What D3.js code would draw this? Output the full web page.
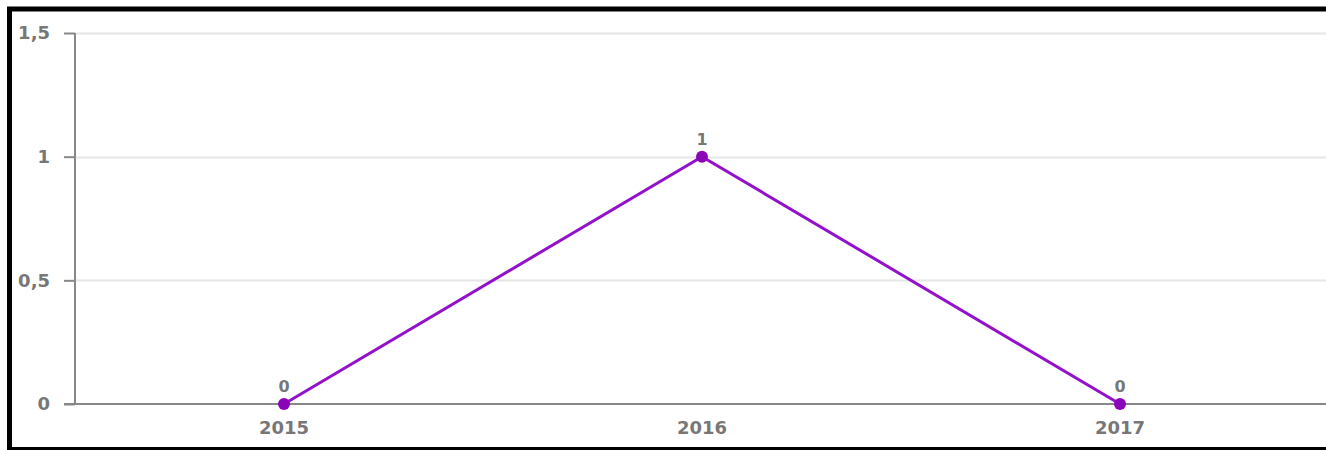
<!DOCTYPE html>
<html>
<head>
<meta charset="utf-8">
<script src="https://cdn.jsdelivr.net/npm/d3@7"></script>
<style>
  body { margin: 0; background: #fff; }
  svg { display: block; }
</style>
</head>
<body>
<script>
const years = ['2015', '2016', '2017']
const counts = [0, 1, 0]
const yTicks = [0, 0.5, 1, 1.5]

const W = 1326
const H = 450
const margin = { top: 33, left: 75, bottom: 46 }

const svg = d3.select('body').append('svg')
  .attr('width', W)
  .attr('height', H)

const xScale = d3.scaleBand()
  .domain(years)
  .range([margin.left, margin.left + 418 * years.length])

const yScale = d3.scaleLinear()
  .domain([0, 1.5])
  .range([H - margin.bottom, margin.top])

const fmt = d => String(d).replace('.', ',')

// grid
svg.append('g')
  .selectAll('line')
  .data(yTicks.filter(d => d > 0))
  .enter().append('line')
  .attr('x1', margin.left)
  .attr('x2', W)
  .attr('y1', d => Math.round(yScale(d)) + 0.5)
  .attr('y2', d => Math.round(yScale(d)) + 0.5)
  .style('stroke', '#e6e6e6')
  .style('stroke-width', 2)

// y axis
const yAxis = svg.append('g')
  .attr('transform', `translate(${margin.left}, 0)`)
  .call(d3.axisLeft(yScale).tickValues(yTicks).tickFormat(fmt).tickSize(11).tickPadding(14))
yAxis.select('.domain').remove()
yAxis.append('line')
  .attr('x1', 0).attr('x2', 0)
  .attr('y1', yScale(1.5)).attr('y2', yScale(0))
  .style('stroke', '#888').style('stroke-width', 2)
yAxis.selectAll('.tick line').style('stroke', '#888').style('stroke-width', 2)
yAxis.selectAll('text')
  .style('fill', '#777')
  .style('font-family', 'DejaVu Sans')
  .style('font-weight', 'bold')
  .style('font-size', '18px')

// x axis
const xAxis = svg.append('g')
  .attr('transform', `translate(0, ${yScale(0)})`)
  .call(d3.axisBottom(xScale).tickSize(0).tickPadding(17))
xAxis.select('.domain').remove()
xAxis.append('line')
  .attr('x1', margin.left - 11).attr('x2', W)
  .attr('y1', 0).attr('y2', 0)
  .style('stroke', '#888').style('stroke-width', 2)
xAxis.selectAll('text')
  .style('fill', '#777')
  .style('font-family', 'DejaVu Sans')
  .style('font-weight', 'bold')
  .style('font-size', '18px')

const cx = d => xScale(d) + xScale.bandwidth() / 2

// line
const line = d3.line()
  .x((d, i) => cx(years[i]))
  .y(d => yScale(d))

svg.append('path')
  .datum(counts)
  .attr('d', line)
  .style('fill', 'none')
  .style('stroke', '#9411cc')
  .style('stroke-width', 3)

svg.selectAll('.dot')
  .data(counts)
  .enter().append('circle')
  .attr('class', 'dot')
  .attr('cx', (d, i) => cx(years[i]))
  .attr('cy', d => yScale(d))
  .attr('r', 6)
  .style('fill', '#8a05b8')

svg.selectAll('.val')
  .data(counts)
  .enter().append('text')
  .attr('class', 'val')
  .attr('x', (d, i) => cx(years[i]))
  .attr('y', d => yScale(d) - 12)
  .text(d => d)
  .style('fill', '#777')
  .style('text-anchor', 'middle')
  .style('font-family', 'DejaVu Sans')
  .style('font-weight', 'bold')
  .style('font-size', '16px')

// frame
svg.append('line').attr('x1', 7).attr('x2', W).attr('y1', 9).attr('y2', 9)
  .style('stroke', '#000').style('stroke-width', 5)
svg.append('line').attr('x1', 9.5).attr('x2', 9.5).attr('y1', 7).attr('y2', H)
  .style('stroke', '#000').style('stroke-width', 5)
svg.append('line').attr('x1', 7).attr('x2', W).attr('y1', 448.5).attr('y2', 448.5)
  .style('stroke', '#000').style('stroke-width', 3)
</script>
</body>
</html>
